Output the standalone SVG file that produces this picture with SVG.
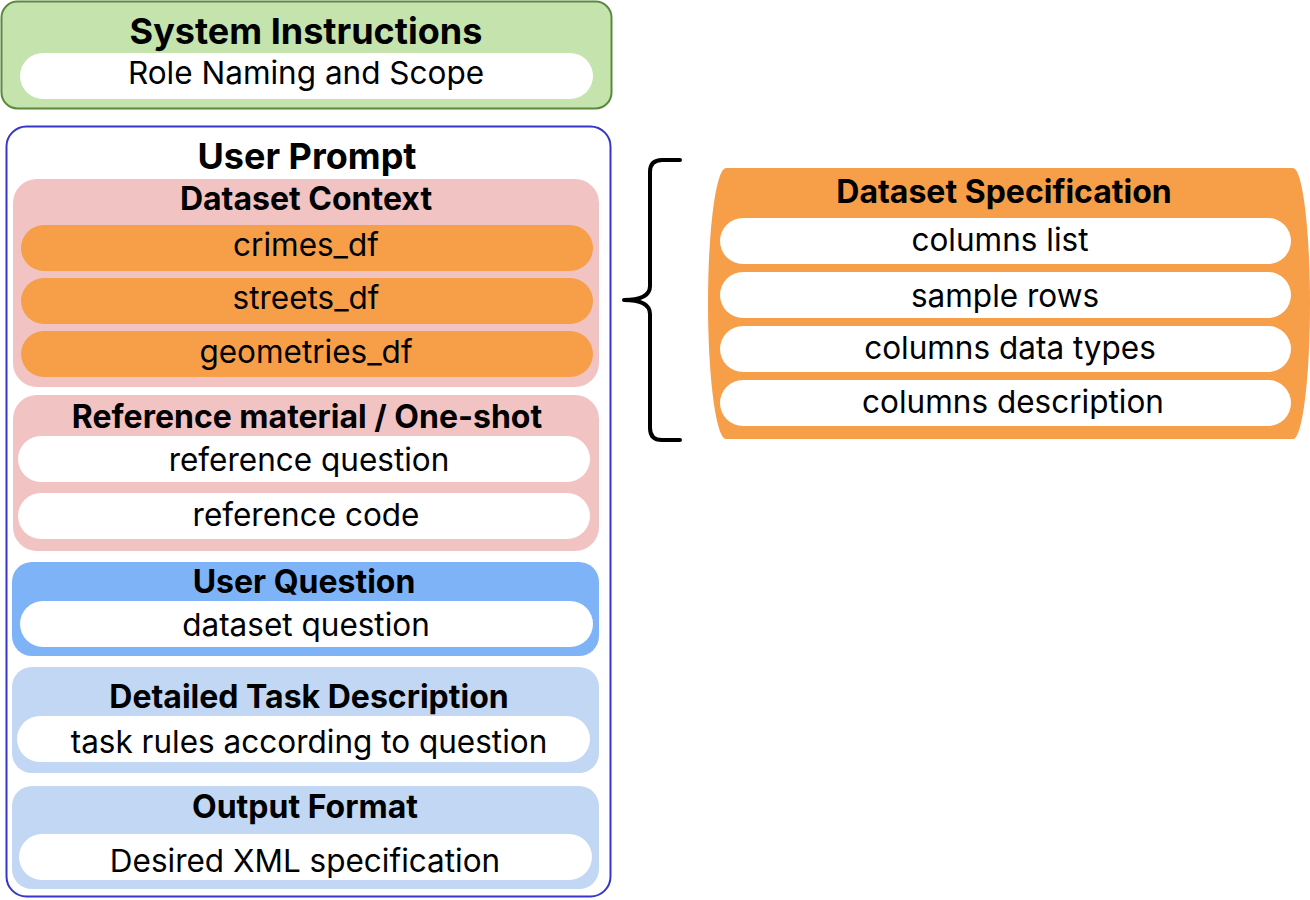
<svg xmlns="http://www.w3.org/2000/svg" width="1310" height="900" viewBox="0 0 1310 900">
<style>
.t{font-family:Inter,"Noto Sans","Liberation Sans",sans-serif;font-weight:700;font-size:32px;text-anchor:middle;fill:#000}
.T{font-family:Inter,"Noto Sans","Liberation Sans",sans-serif;font-weight:700;font-size:36px;text-anchor:middle;fill:#000}
.l{font-family:Inter,"Noto Sans","Liberation Sans",sans-serif;font-weight:400;font-size:31.5px;text-anchor:middle;fill:#000}
.w{fill:#fff}
.o{fill:#F69F48}
.p{fill:#F2C3C3}
</style>
<rect width="1310" height="900" fill="#fff"/>
<g id="system">
<rect x="1.5" y="1.5" width="610" height="107" rx="16" fill="#C5E3AD" stroke="#5B8A3C" stroke-width="2"/>
<text class="T" x="306" y="44">System Instructions</text>
<rect class="w" x="20" y="53" width="573" height="46" rx="23"/>
<text class="l" x="306" y="84">Role Naming and Scope</text>
</g>
<g id="userprompt">
<rect x="6.5" y="126.5" width="604" height="770" rx="20" fill="#fff" stroke="#3636C8" stroke-width="2"/>
<text class="T" x="307" y="169">User Prompt</text>
</g>
<g id="datasetcontext">
<rect class="p" x="13" y="179" width="586" height="208" rx="24"/>
<text class="t" x="306" y="210">Dataset Context</text>
<rect class="o" x="21" y="225" width="572" height="46" rx="23"/>
<text class="l" x="306" y="256">crimes_df</text>
<rect class="o" x="21" y="278" width="572" height="46" rx="23"/>
<text class="l" x="306" y="309">streets_df</text>
<rect class="o" x="21" y="331" width="572" height="46" rx="23"/>
<text class="l" x="306" y="363">geometries_df</text>
</g>
<g id="reference">
<rect class="p" x="13" y="395" width="586" height="156" rx="24"/>
<text class="t" x="307" y="428">Reference material / One-shot</text>
<rect class="w" x="18" y="436" width="572" height="46" rx="23"/>
<text class="l" x="309" y="471">reference question</text>
<rect class="w" x="18" y="493" width="572" height="46" rx="23"/>
<text class="l" x="306" y="526">reference code</text>
</g>
<g id="userquestion">
<rect x="12" y="562" width="587" height="94" rx="20" fill="#7EB3F7"/>
<text class="t" x="304" y="593">User Question</text>
<rect class="w" x="20" y="601" width="573" height="46" rx="23"/>
<text class="l" x="306" y="636">dataset question</text>
</g>
<g id="taskdescription">
<rect x="12" y="667" width="587" height="106" rx="20" fill="#C2D7F3"/>
<text class="t" x="309" y="708">Detailed Task Description</text>
<rect class="w" x="17" y="716" width="573" height="46" rx="23"/>
<text class="l" x="309" y="753">task rules according to question</text>
</g>
<g id="outputformat">
<rect x="12" y="786" width="587" height="103" rx="20" fill="#C2D7F3"/>
<text class="t" x="305" y="818">Output Format</text>
<rect class="w" x="19" y="834" width="573" height="46" rx="23"/>
<text class="l" x="305" y="872">Desired XML specification</text>
</g>
<g id="connectors">
<path d="M 680,160 L 662,160 Q 650,160 650,172 L 650,286 Q 650,300 624,300 Q 650,300 650,314 L 650,428 Q 650,440 662,440 L 680,440" fill="none" stroke="#000" stroke-width="4" stroke-linecap="round" stroke-linejoin="round"/>
</g>
<g id="datasetspec">
<path class="o" d="M 726,168 L 1293,168 A 17 135.5 0 0 1 1293,439 L 726,439 A 18 135.5 0 0 1 726,168 Z"/>
<text class="t" x="1004" y="203">Dataset Specification</text>
<rect class="w" x="720" y="218" width="571" height="46" rx="23"/>
<text class="l" x="1000" y="251">columns list</text>
<rect class="w" x="720" y="272" width="571" height="46" rx="23"/>
<text class="l" x="1005" y="307">sample rows</text>
<rect class="w" x="720" y="326" width="571" height="46" rx="23"/>
<text class="l" x="1010" y="359">columns data types</text>
<rect class="w" x="720" y="380" width="571" height="46" rx="23"/>
<text class="l" x="1013" y="413">columns description</text>
</g>
</svg>
